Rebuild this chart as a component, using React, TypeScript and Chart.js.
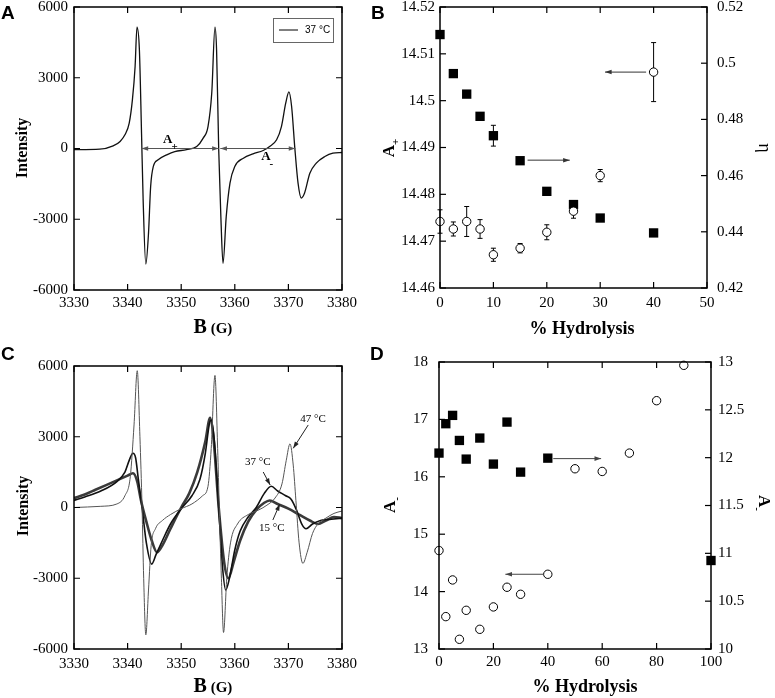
import React, { useEffect, useRef } from 'react';
import { Chart, registerables } from 'chart.js';
Chart.register(...registerables);

if (typeof document !== 'undefined') {
  document.body.style.margin = '0';
  document.body.style.background = '#fff';
}

const SERIF = '"Liberation Serif", "Times New Roman", serif';
const SANS = '"Liberation Sans", Arial, sans-serif';

// ---------- Panel A: EPR spectrum at 37 °C ----------
const specAField = [3330, 3334.8, 3337.3, 3338.6, 3339.5, 3340.3, 3340.9, 3341.4, 3341.75, 3342.2, 3342.6, 3342.9, 3343.4, 3343.9, 3344.3, 3344.8, 3345.7, 3347.3, 3348.8, 3351, 3352.9, 3354.1, 3355.0, 3355.7, 3356.3, 3356.6, 3357.0, 3357.4, 3357.8, 3358.4, 3359.1, 3360, 3361.6, 3363.4, 3365.3, 3366.5, 3367.8, 3368.7, 3369.5, 3370.1, 3370.6, 3371.2, 3371.8, 3372.4, 3373.0, 3374.0, 3375.2, 3376.8, 3378.3, 3380];
const specAInt = [-50, -30, 110, 300, 580, 1075, 2070, 3480, 5150, 4190, 650, -2180, -4900, -3600, -1610, -760, -480, -270, -130, -50, 85, 440, 930, 2350, 5150, 4190, -60, -2890, -4870, -2890, -1470, -760, -410, -225, -85, 85, 370, 930, 1920, 2400, 1780, 15, -1470, -2100, -1900, -1050, -620, -340, -200, -170];
const fieldTicks = [3330, 3380, 10];
const intensityTicks = [-6000, 6000, 3000];
const arrowsA = [
  { x1: 3342.6, y1: 0, x2: 3357.0, y2: 0, yAxis: 'y', start: true, end: true, color: '#555' },
  { x1: 3357.3, y1: 0, x2: 3371.3, y2: 0, yAxis: 'y', start: true, end: true, color: '#555' },
];
const labelsA = [
  { x: 3347.5, y: 360, yAxis: 'y', text: 'A', sub: '+' },
  { x: 3365.8, y: -360, yAxis: 'y', text: 'A', sub: '-' },
];

// ---------- Panel B: A+ (circles, left) and eta (squares, right) ----------
const hydB = [0, 2.5, 5, 7.5, 10, 15, 20, 25, 30, 40];
const aPlusB = [14.4742, 14.4726, 14.4742, 14.4726, 14.4671, 14.4685, 14.4719, 14.4764, 14.484, 14.5061];
const aPlusErrB = [0.0025, 0.0015, 0.0032, 0.002, 0.0014, 0.001, 0.0016, 0.0015, 0.0013, 0.0063];
const etaB = [0.5102, 0.4963, 0.489, 0.4811, 0.4742, 0.4653, 0.4544, 0.4497, 0.4449, 0.4396];
const etaErrB = [0, 0, 0, 0, 0.0037, 0, 0, 0, 0, 0];
const arrowsB = [
  { x1: 38.6, y1: 14.5061, x2: 30.9, y2: 14.5061, yAxis: 'yL', end: true, color: '#333' },
  { x1: 16.4, y1: 0.4655, x2: 24.3, y2: 0.4655, yAxis: 'yR', end: true, color: '#333' },
];

// ---------- Panel C: spectra at three temperatures ----------
const c47Field = [3330, 3335, 3338, 3339.5, 3340.5, 3341.2, 3341.8, 3342.3, 3342.7, 3343.0, 3343.4, 3343.9, 3344.4, 3345.2, 3346.5, 3348, 3350, 3352, 3354, 3355, 3355.6, 3356.3, 3356.8, 3357.1, 3357.5, 3357.9, 3358.5, 3359.2, 3360.5, 3362.5, 3364.5, 3366, 3367.5, 3368.8, 3369.6, 3370.3, 3370.9, 3371.4, 3372, 3372.7, 3373.5, 3374.5, 3375.5, 3377, 3378.5, 3380];
const c47Int = [0, 50, 150, 500, 1300, 3500, 5800, 3000, 0, -3000, -5400, -3500, -1600, -900, -550, -300, -50, 150, 500, 900, 2500, 5600, 2500, 0, -3000, -5300, -3000, -1500, -700, -300, -100, 100, 400, 1000, 2000, 2700, 1800, 300, -1500, -2370, -1900, -1100, -700, -450, -250, -150];
const c37Field = [3330, 3332, 3335, 3338, 3339.5, 3340.3, 3341, 3341.5, 3342, 3342.7, 3343.5, 3344.5, 3345.3, 3346.5, 3348, 3350, 3352, 3353.5, 3354.5, 3355.3, 3355.6, 3356.2, 3357, 3357.7, 3358.3, 3359, 3360, 3361, 3362.5, 3364, 3365.5, 3366.8, 3368, 3369.5, 3370.5, 3371.5, 3372.5, 3373.3, 3374.5, 3376, 3378, 3380];
const c37Int = [300, 450, 700, 1100, 1500, 2000, 2300, 2100, 1200, 0, -1500, -2400, -2000, -1400, -700, -50, 500, 1200, 2300, 3600, 3700, 2800, 0, -2500, -3500, -3000, -1800, -1000, -400, 0, 600, 900, 700, 500, 350, -100, -700, -900, -700, -550, -500, -450];
const c15Field = [3330, 3332, 3334, 3336, 3338, 3340, 3341, 3341.8, 3342.5, 3343.5, 3344.5, 3345.5, 3346.5, 3348, 3350, 3351.5, 3353, 3354.5, 3355.4, 3356, 3357, 3358, 3358.8, 3359.8, 3361, 3362.5, 3364, 3365.5, 3366.5, 3368, 3370, 3372, 3374, 3375.5, 3377, 3378.5, 3380];
const c15Int = [400, 550, 750, 950, 1150, 1350, 1450, 1100, 300, -600, -1400, -1900, -1600, -900, 0, 600, 1500, 2800, 3800, 3000, 0, -2300, -3000, -2300, -1400, -600, -100, 200, 300, 150, -50, -300, -550, -700, -550, -400, -450];
const labelsC = [
  { x: 3374.6, y: 3753, yAxis: 'y', text: '47 °C' },
  { x: 3364.3, y: 1929, yAxis: 'y', text: '37 °C' },
  { x: 3366.9, y: -870, yAxis: 'y', text: '15 °C' },
];
const arrowsC = [
  { x1: 3373.7, y1: 3500, x2: 3370.9, y2: 2510, yAxis: 'y', end: true, color: '#222' },
  { x1: 3365.3, y1: 1505, x2: 3366.6, y2: 954, yAxis: 'y', end: true, color: '#222' },
  { x1: 3367.1, y1: -530, x2: 3368.4, y2: 150, yAxis: 'y', end: true, color: '#222' },
];

// ---------- Panel D: A- (circles, left) and A- (squares, right) ----------
const hydDsq = [0, 2.5, 5, 7.5, 10, 15, 20, 25, 30, 40, 100];
const aRightD = [12.048, 12.355, 12.442, 12.18, 11.985, 12.205, 11.933, 12.372, 11.849, 11.995, 10.925];
const hydDc = [0, 2.5, 5, 7.5, 10, 15, 20, 25, 30, 40, 50, 60, 70, 80, 90];
const aLeftD = [14.715, 13.564, 14.203, 13.169, 13.674, 13.343, 13.733, 14.076, 13.953, 14.302, 16.14, 16.093, 16.413, 17.326, 17.942];
const arrowsD = [
  { x1: 42, y1: 11.99, x2: 59.6, y2: 11.99, yAxis: 'yR', end: true, color: '#444' },
  { x1: 38.3, y1: 14.302, x2: 24.4, y2: 14.302, yAxis: 'yL', end: true, color: '#444' },
];

// ---------- helpers ----------
const fmt = (v: any) => String(parseFloat(Number(v).toFixed(4)));

function lin(min: number, max: number, step: number, position: string, size: number, pad: number) {
  const horizontal = position === 'bottom' || position === 'top';
  return {
    type: 'linear',
    position,
    min,
    max,
    grid: { display: false, drawTicks: false },
    border: { display: false },
    ticks: {
      stepSize: step,
      padding: pad,
      color: '#000',
      font: { family: SERIF, size: 15 },
      callback: (v: any) => fmt(v),
      maxRotation: 0,
      autoSkip: false,
    },
    afterFit: (s: any) => {
      if (horizontal) {
        s.height = size;
        s.paddingLeft = 0;
        s.paddingRight = 0;
      } else {
        s.width = size;
        s.paddingTop = 0;
        s.paddingBottom = 0;
      }
    },
  };
}

function pts(xs: number[], ys: number[]) {
  return xs.map((x, i) => ({ x, y: ys[i] }));
}

function drawHead(ctx: CanvasRenderingContext2D, x: number, y: number, ang: number) {
  const L = 7, W = 0.33;
  ctx.beginPath();
  ctx.moveTo(x, y);
  ctx.lineTo(x - L * Math.cos(ang - W), y - L * Math.sin(ang - W));
  ctx.lineTo(x - L * Math.cos(ang + W), y - L * Math.sin(ang + W));
  ctx.closePath();
  ctx.fill();
}

function makeDecor(cfg: any) {
  return {
    id: 'decor',
    beforeDatasetsDraw(chart: any) {
      const ctx = chart.ctx;
      ctx.save();
      ctx.strokeStyle = '#000';
      ctx.lineWidth = 1;
      chart.data.datasets.forEach((ds: any, i: number) => {
        const errs = ds.errors;
        if (!errs) return;
        const meta = chart.getDatasetMeta(i);
        const xs = chart.scales[meta.xAxisID];
        const ys = chart.scales[meta.yAxisID];
        ds.data.forEach((p: any, j: number) => {
          const e = errs[j];
          if (!e) return;
          const px = xs.getPixelForValue(p.x);
          const y1 = ys.getPixelForValue(p.y - e);
          const y2 = ys.getPixelForValue(p.y + e);
          ctx.beginPath();
          ctx.moveTo(px, y1);
          ctx.lineTo(px, y2);
          ctx.moveTo(px - 2.5, y1);
          ctx.lineTo(px + 2.5, y1);
          ctx.moveTo(px - 2.5, y2);
          ctx.lineTo(px + 2.5, y2);
          ctx.stroke();
        });
      });
      ctx.restore();
    },
    afterDatasetsDraw(chart: any) {
      const ctx = chart.ctx;
      const xs = chart.scales.x;
      ctx.save();
      (cfg.arrows || []).forEach((a: any) => {
        const ys = chart.scales[a.yAxis];
        const x1 = xs.getPixelForValue(a.x1), y1 = ys.getPixelForValue(a.y1);
        const x2 = xs.getPixelForValue(a.x2), y2 = ys.getPixelForValue(a.y2);
        ctx.strokeStyle = a.color;
        ctx.fillStyle = a.color;
        ctx.lineWidth = 1;
        ctx.beginPath();
        ctx.moveTo(x1, y1);
        ctx.lineTo(x2, y2);
        ctx.stroke();
        const ang = Math.atan2(y2 - y1, x2 - x1);
        if (a.end) drawHead(ctx, x2, y2, ang);
        if (a.start) drawHead(ctx, x1, y1, ang + Math.PI);
      });
      (cfg.labels || []).forEach((l: any) => {
        const ys = chart.scales[l.yAxis];
        const x = xs.getPixelForValue(l.x), y = ys.getPixelForValue(l.y);
        ctx.fillStyle = '#000';
        ctx.textBaseline = 'middle';
        if (l.sub) {
          ctx.font = `bold 13px ${SERIF}`;
          ctx.textAlign = 'center';
          ctx.fillText(l.text, x, y);
          const w = ctx.measureText(l.text).width;
          ctx.font = `bold 11px ${SERIF}`;
          ctx.textAlign = 'left';
          ctx.fillText(l.sub, x + w / 2 - 1, y + 7);
        } else {
          ctx.font = `11px ${SERIF}`;
          ctx.textAlign = 'center';
          ctx.fillText(l.text, x, y);
        }
      });
      if (cfg.legend) {
        const ca = chart.chartArea;
        const bx = ca.right - 69, by = ca.top + 11, bw = 60, bh = 24;
        ctx.fillStyle = '#fff';
        ctx.fillRect(bx, by, bw, bh);
        ctx.strokeStyle = '#666';
        ctx.lineWidth = 1;
        ctx.strokeRect(bx + 0.5, by + 0.5, bw, bh);
        ctx.strokeStyle = '#000';
        ctx.beginPath();
        ctx.moveTo(bx + 6, by + bh / 2);
        ctx.lineTo(bx + 25, by + bh / 2);
        ctx.stroke();
        ctx.fillStyle = '#000';
        ctx.font = `10px ${SANS}`;
        ctx.textAlign = 'left';
        ctx.textBaseline = 'middle';
        ctx.fillText(cfg.legend, bx + 32, by + bh / 2 + 0.5);
      }
      ctx.restore();
    },
    afterDraw(chart: any) {
      const ctx = chart.ctx;
      const ca = chart.chartArea;
      const L = 6;
      ctx.save();
      ctx.strokeStyle = '#000';
      ctx.lineWidth = 1.2;
      Object.values(chart.scales).forEach((s: any) => {
        s.ticks.forEach((t: any) => {
          const p = s.getPixelForValue(t.value);
          ctx.beginPath();
          if (s.axis === 'x') {
            ctx.moveTo(p, ca.bottom);
            ctx.lineTo(p, ca.bottom - L);
            ctx.moveTo(p, ca.top);
            ctx.lineTo(p, ca.top + L);
          } else if (s.position === 'left') {
            ctx.moveTo(ca.left, p);
            ctx.lineTo(ca.left + L, p);
            if (cfg.mirrorY) {
              ctx.moveTo(ca.right, p);
              ctx.lineTo(ca.right - L, p);
            }
          } else {
            ctx.moveTo(ca.right, p);
            ctx.lineTo(ca.right - L, p);
          }
          ctx.stroke();
        });
      });
      ctx.lineWidth = 1.5;
      ctx.strokeRect(ca.left, ca.top, ca.right - ca.left, ca.bottom - ca.top);
      ctx.restore();
    },
  };
}

function baseOptions(padding: any, scales: any) {
  return {
    responsive: false,
    animation: false,
    events: [],
    layout: { padding },
    plugins: { legend: { display: false }, tooltip: { enabled: false } },
    scales,
  };
}

function spectrum(xs: number[], ys: number[], color: string, width: number) {
  return {
    data: pts(xs, ys),
    showLine: true,
    pointRadius: 0,
    borderColor: color,
    borderWidth: width,
    cubicInterpolationMode: 'monotone',
    xAxisID: 'x',
    yAxisID: 'y',
  };
}

function circles(xs: number[], ys: number[], axis: string, errors?: number[]) {
  return {
    data: pts(xs, ys),
    showLine: false,
    pointStyle: 'circle',
    pointRadius: 4.2,
    pointBackgroundColor: '#fff',
    pointBorderColor: '#000',
    pointBorderWidth: 1,
    xAxisID: 'x',
    yAxisID: axis,
    clip: false,
    errors,
  };
}

function squares(xs: number[], ys: number[], axis: string, errors?: number[]) {
  return {
    data: pts(xs, ys),
    showLine: false,
    pointStyle: 'rect',
    pointRadius: 6.6,
    pointBackgroundColor: '#000',
    pointBorderColor: '#000',
    pointBorderWidth: 0,
    xAxisID: 'x',
    yAxisID: axis,
    clip: false,
    errors,
  };
}

const buildA = () => ({
  type: 'scatter',
  data: { datasets: [spectrum(specAField, specAInt, '#111', 1.3)] },
  options: baseOptions({ left: 0, top: 7, right: 45, bottom: 0 }, {
    x: lin(fieldTicks[0], fieldTicks[1], fieldTicks[2], 'bottom', 55, 4),
    y: lin(intensityTicks[0], intensityTicks[1], intensityTicks[2], 'left', 74, 6),
  }),
  plugins: [makeDecor({ mirrorY: true, arrows: arrowsA, labels: labelsA, legend: '37 °C' })],
});

const buildB = () => ({
  type: 'scatter',
  data: {
    datasets: [
      circles(hydB, aPlusB, 'yL', aPlusErrB),
      squares(hydB, etaB, 'yR', etaErrB),
    ],
  },
  options: baseOptions({ left: 0, top: 7, right: 0, bottom: 0 }, {
    x: lin(0, 50, 10, 'bottom', 57, 6),
    yL: lin(14.46, 14.52, 0.01, 'left', 53, 5),
    yR: lin(0.42, 0.52, 0.02, 'right', 68, 10),
  }),
  plugins: [makeDecor({ arrows: arrowsB })],
});

const buildC = () => ({
  type: 'scatter',
  data: {
    datasets: [
      spectrum(c47Field, c47Int, '#555', 1),
      spectrum(c37Field, c37Int, '#111', 1.6),
      spectrum(c15Field, c15Int, '#3a3a3a', 2.6),
    ],
  },
  options: baseOptions({ left: 0, top: 21, right: 45, bottom: 0 }, {
    x: lin(fieldTicks[0], fieldTicks[1], fieldTicks[2], 'bottom', 49, 6),
    y: lin(intensityTicks[0], intensityTicks[1], intensityTicks[2], 'left', 74, 6),
  }),
  plugins: [makeDecor({ mirrorY: true, arrows: arrowsC, labels: labelsC })],
});

const buildD = () => ({
  type: 'scatter',
  data: {
    datasets: [
      circles(hydDc, aLeftD, 'yL'),
      squares(hydDsq, aRightD, 'yR'),
    ],
  },
  options: baseOptions({ left: 0, top: 17, right: 0, bottom: 0 }, {
    x: lin(0, 100, 20, 'bottom', 49, 4),
    yL: lin(13, 18, 1, 'left', 52, 11),
    yR: lin(10, 13, 0.5, 'right', 64, 7),
  }),
  plugins: [makeDecor({ arrows: arrowsD })],
});

function Panel({ left, top, width, height, build }: any) {
  const ref = useRef<HTMLCanvasElement | null>(null);
  useEffect(() => {
    const chart = new Chart(ref.current as any, build() as any);
    return () => chart.destroy();
  }, []);
  return (
    <canvas
      ref={ref}
      width={width}
      height={height}
      style={{ position: 'absolute', left, top, width, height }}
    />
  );
}

function Rot({ x, y, angle, children, style }: any) {
  return (
    <div
      style={{
        position: 'absolute',
        left: x,
        top: y,
        transform: `translate(-50%, -50%) rotate(${angle}deg)`,
        whiteSpace: 'nowrap',
        fontFamily: SERIF,
        fontWeight: 'bold',
        lineHeight: 1,
        color: '#000',
        ...style,
      }}
    >
      {children}
    </div>
  );
}

function Letter({ x, y, children }: any) {
  return (
    <div style={{ position: 'absolute', left: x, top: y, fontFamily: SANS, fontWeight: 'bold', fontSize: 19, lineHeight: '19px', color: '#000' }}>
      {children}
    </div>
  );
}

function Centered({ x, top, children, style }: any) {
  return (
    <div
      style={{
        position: 'absolute',
        left: x,
        top,
        transform: 'translateX(-50%)',
        whiteSpace: 'nowrap',
        fontFamily: SERIF,
        fontWeight: 'bold',
        color: '#000',
        ...style,
      }}
    >
      {children}
    </div>
  );
}

const BG = () => (
  <>
    <span style={{ fontSize: 20 }}>B</span>
    <span style={{ fontSize: 15 }}> (G)</span>
  </>
);

const Sub = ({ s }: any) => (
  <span>
    A<span style={{ fontSize: 11, position: 'relative', top: 5 }}>{s}</span>
  </span>
);

export default function App() {
  return (
    <div style={{ position: 'relative', width: 775, height: 698, background: '#fff', overflow: 'hidden' }}>
      <Panel left={0} top={0} width={387} height={345} build={buildA} />
      <Panel left={387} top={0} width={388} height={345} build={buildB} />
      <Panel left={0} top={345} width={387} height={353} build={buildC} />
      <Panel left={387} top={345} width={388} height={353} build={buildD} />

      <Letter x={1} y={3}>A</Letter>
      <Letter x={371} y={3}>B</Letter>
      <Letter x={1} y={344}>C</Letter>
      <Letter x={370} y={344}>D</Letter>

      <Rot x={22} y={148} angle={-90} style={{ fontSize: 16 }}>Intensity</Rot>
      <Rot x={23} y={506} angle={-90} style={{ fontSize: 16 }}>Intensity</Rot>
      <Centered x={213} top={315} style={{ lineHeight: '22px' }}><BG /></Centered>
      <Centered x={213} top={674} style={{ lineHeight: '22px' }}><BG /></Centered>

      <Centered x={582} top={319} style={{ fontSize: 18, lineHeight: '18px' }}>% Hydrolysis</Centered>
      <Centered x={585} top={677} style={{ fontSize: 18, lineHeight: '18px' }}>% Hydrolysis</Centered>

      <Rot x={388} y={148} angle={-90} style={{ fontSize: 17 }}><Sub s="+" /></Rot>
      <Rot x={765} y={148} angle={90} style={{ fontSize: 18, fontWeight: 'normal' }}>η</Rot>
      <Rot x={389} y={505} angle={-90} style={{ fontSize: 17 }}><Sub s="-" /></Rot>
      <Rot x={764} y={503} angle={90} style={{ fontSize: 17 }}><Sub s="-" /></Rot>
    </div>
  );
}
